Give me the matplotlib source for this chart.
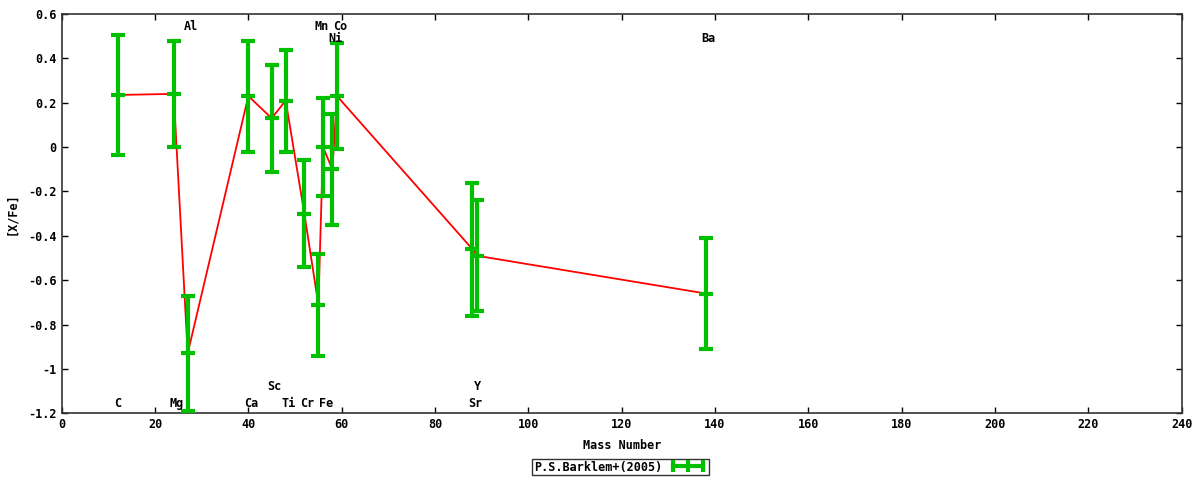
import numpy as np
import matplotlib.pyplot as plt
from matplotlib.lines import Line2D
from matplotlib.ticker import FuncFormatter, MultipleLocator

plt.rcParams['font.family'] = ['DejaVu Sans Mono']
plt.rcParams['font.weight'] = 'bold'
plt.rcParams['axes.labelweight'] = 'bold'
plt.rcParams['axes.unicode_minus'] = False

# P.S.Barklem+(2005) abundances
elements = ["C", "Mg", "Al", "Ca", "Sc", "Ti", "Cr", "Mn", "Fe", "Ni", "Co", "Sr", "Y", "Ba"]
mass = [12, 24, 27, 40, 45, 48, 52, 55, 56, 58, 59, 88, 89, 138]
xfe = [0.235, 0.24, -0.93, 0.23, 0.13, 0.21, -0.30, -0.71, 0.0, -0.10, 0.23, -0.46, -0.49, -0.66]
err = [0.27, 0.24, 0.26, 0.25, 0.24, 0.23, 0.24, 0.23, 0.22, 0.25, 0.24, 0.30, 0.25, 0.25]
# vertical position of each element label
label_y = [-1.155, -1.155, 0.545, -1.155, -1.08, -1.155, -1.155, 0.545, -1.155, 0.49, 0.545, -1.155, -1.08, 0.49]

green = "#00c000"

fig = plt.figure(figsize=(12, 4.8), dpi=100)
ax = fig.add_axes([0.0514, 0.139, 0.9334, 0.8318])

# connecting line through the points (no key entry)
ax.plot(mass, xfe, color="red", linewidth=1.3, zorder=2)

# error bars with a tick at the value
ax.errorbar(mass, xfe, yerr=err, fmt="_", color=green, ecolor=green,
            elinewidth=3, capsize=5, capthick=3, markersize=10,
            markeredgewidth=3, zorder=3)

# element names
for name, m, ly in zip(elements, mass, label_y):
    dx = 0.6 if len(name) == 2 else 0.0
    ax.text(m + dx, ly, name, ha="center", va="center", fontsize=8.5)

ax.set_xlim(0, 240)
ax.set_ylim(-1.2, 0.6)
ax.xaxis.set_major_locator(MultipleLocator(20))
ax.yaxis.set_major_locator(MultipleLocator(0.2))
ax.yaxis.set_major_formatter(FuncFormatter(lambda v, p: "%g" % round(v, 6)))
ax.tick_params(direction="in", length=4, top=True, right=True, labelsize=8.5, width=1)
for s in ax.spines.values():
    s.set_linewidth(1.2)
    s.set_color("#333333")

ax.set_xlabel("Mass Number", fontsize=8.5, labelpad=6)
ax.set_ylabel("[X/Fe]", fontsize=8.5, labelpad=7)

key = Line2D([], [], color=green, linewidth=3, marker="|", markersize=8,
             markeredgewidth=3)
leg = fig.legend([key], ["P.S.Barklem+(2005)"], loc="center",
                 bbox_to_anchor=(0.517, 0.027), markerfirst=False, numpoints=3,
                 fontsize=8.5, frameon=True, fancybox=False, handlelength=3.2,
                 borderpad=0.15, borderaxespad=0, handletextpad=0.6)
leg.get_frame().set_edgecolor("black")
leg.get_frame().set_linewidth(1)

fig.savefig("out.png", dpi=100)
